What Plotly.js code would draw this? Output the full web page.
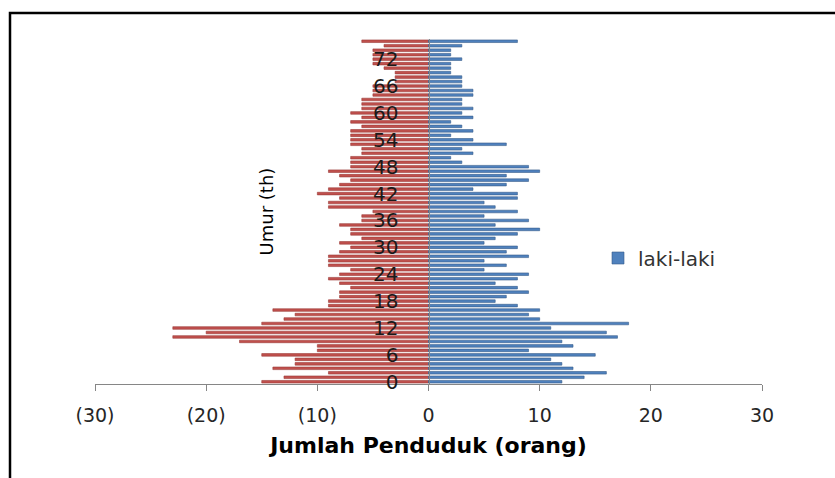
<!DOCTYPE html>
<html>
<head>
<meta charset="utf-8">
<script src="https://cdn.plot.ly/plotly-3.0.1.min.js"></script>
<style>
html,body{margin:0;padding:0;background:#ffffff;}
#chart{width:835px;height:478px;}
</style>
</head>
<body>
<div id="chart"></div>
<script>
// ---- data ----
const umur = [0,1,2,3,4,5,6,7,8,9,10,11,12,13,14,15,16,17,18,19,20,21,22,23,24,25,26,27,28,29,30,31,32,33,34,35,36,37,38,39,40,41,42,43,44,45,46,47,48,49,50,51,52,53,54,55,56,57,58,59,60,61,62,63,64,65,66,67,68,69,70,71,72,73,74,75,76];
const perempuan = [15,13,9,14,12,12,15,10,10,17,23,20,23,15,13,12,14,9,9,8,8,7,8,9,8,7,9,9,9,8,7,8,6,7,7,8,6,6,5,9,9,8,10,9,8,7,8,9,7,7,7,6,6,7,7,7,7,6,7,6,7,6,6,6,5,5,5,3,3,3,4,5,5,5,5,4,6];
const lakiLaki  = [12,14,16,13,12,11,15,9,13,12,17,16,11,18,10,9,10,8,6,7,9,8,6,8,9,5,7,5,9,7,8,5,6,8,10,6,9,5,8,6,5,8,8,4,7,9,7,10,9,3,2,4,3,7,4,2,4,3,2,4,3,4,3,3,4,4,3,3,3,2,2,2,3,2,2,3,8];
const xTickVals = [-30,-20,-10,0,10,20,30];
const xTickText = ['(30)','(20)','(10)','0','10','20','30'];
const yTickVals = [0,6,12,18,24,30,36,42,48,54,60,66,72];

// ---- layout geometry ----
const W = 835, H = 478;
const M = {l:95, r:73, t:39, b:94};
const pw = W - M.l - M.r, ph = H - M.t - M.b;
const px = x => (x - M.l) / pw;
const py = y => (H - M.b - y) / ph;

const FONT = 'DejaVu Sans';

const tracePerempuan = {
  type: 'bar', orientation: 'h', name: 'perempuan',
  y: umur, x: perempuan.map(v => -v),
  marker: {color: '#C0504D', line: {color: '#9B3B38', width: 0.6}},
  showlegend: false, hoverinfo: 'skip'
};
const traceLaki = {
  type: 'bar', orientation: 'h', name: 'laki-laki',
  y: umur, x: lakiLaki,
  marker: {color: '#4F81BD', line: {color: '#385D8A', width: 0.6}},
  hoverinfo: 'skip'
};

const layout = {
  width: W, height: H,
  margin: {l: M.l, r: M.r, t: M.t, b: M.b, pad: 0},
  paper_bgcolor: '#ffffff', plot_bgcolor: '#ffffff',
  barmode: 'overlay', bargap: 0.42,
  font: {family: FONT, color: '#262626'},
  xaxis: {
    range: [-30, 30], tickvals: xTickVals, ticktext: xTickText,
    ticks: 'outside', ticklen: 6, tickcolor: '#868686', tickwidth: 1,
    showline: true, linecolor: '#868686', linewidth: 1,
    showgrid: false, zeroline: false,
    tickfont: {family: FONT, size: 19, color: '#262626'},
    ticklabelstandoff: 8,
    title: {text: 'Jumlah Penduduk (orang)', font: {family: FONT, size: 22, weight: 'bold', color: '#000000'}, standoff: 12},
    fixedrange: true
  },
  yaxis: {
    range: [-0.5, 76.5], tickvals: yTickVals, ticktext: yTickVals.map(String),
    anchor: 'free', position: 0.5,
    ticks: '', showline: true, linecolor: '#868686', linewidth: 1,
    showgrid: false, zeroline: false,
    tickfont: {family: FONT, size: 20, color: '#1a1a1a'},
    ticklabelstandoff: 26,
    title: {text: 'Umur (th)', font: {family: FONT, size: 18, color: '#000000'}, standoff: 93},
    fixedrange: true
  },
  legend: {
    x: px(598), y: py(258), xanchor: 'left', yanchor: 'middle',
    font: {family: FONT, size: 20, color: '#333333'},
    bgcolor: 'rgba(0,0,0,0)', borderwidth: 0
  },
  shapes: [{
    type: 'path', xref: 'paper', yref: 'paper',
    path: 'M ' + px(W + 5) + ' ' + py(13) + ' L ' + px(10) + ' ' + py(13) + ' L ' + px(10) + ' ' + py(H + 5),
    line: {color: '#000000', width: 2.5}
  }]
};

Plotly.newPlot('chart', [tracePerempuan, traceLaki], layout, {displayModeBar: false, staticPlot: true});
</script>
</body>
</html>
